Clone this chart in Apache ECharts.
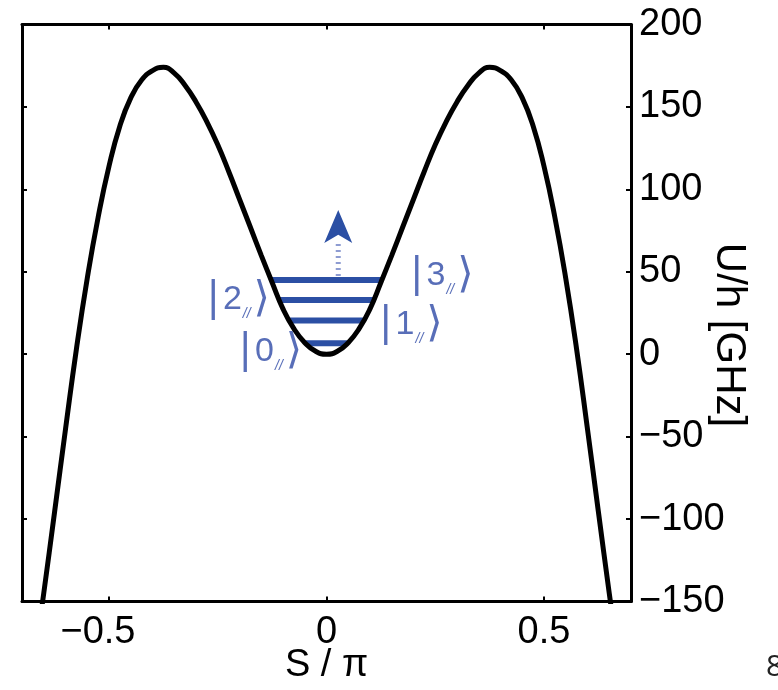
<!DOCTYPE html>
<html>
<head>
<meta charset="utf-8">
<script src="https://cdn.jsdelivr.net/npm/echarts@6/dist/echarts.min.js"></script>
<style>
  html, body { margin: 0; padding: 0; background: #ffffff; }
  #chart { width: 778px; height: 690px; }
</style>
</head>
<body>
<div id="chart"></div>
<script>
// Potential energy U/h (GHz) versus phase S/π
const phase = [-0.675, -0.65, -0.625, -0.6, -0.575, -0.55, -0.525, -0.5, -0.475, -0.45, -0.425, -0.4, -0.375, -0.35, -0.325, -0.3, -0.275, -0.25, -0.225, -0.2, -0.175, -0.15, -0.125, -0.1, -0.075, -0.05, -0.025,
               0,
               0.025, 0.05, 0.075, 0.1, 0.125, 0.15, 0.175, 0.2, 0.225, 0.25, 0.275, 0.3, 0.325, 0.35, 0.375, 0.4, 0.425, 0.45, 0.475, 0.5, 0.525, 0.55, 0.575, 0.6, 0.625, 0.65, 0.675];
const potential = [-193, -145, -95.5, -45.5, 3, 46, 83, 114, 138.5, 155.5, 166.3, 172, 174, 170.5, 163, 153, 141, 127, 111, 94, 77, 60, 43.5, 27.5, 15.5, 7, 1.8,
                   0,
                   1.8, 7, 15.5, 27.5, 43.5, 60, 77, 94, 111, 127, 141, 153, 163, 170.5, 174, 172, 166.3, 155.5, 138.5, 114, 83, 46, 3, -45.5, -95.5, -145, -193];

// Bound levels |0>..|3>: energy and half-width of the well at that energy
const levelEnergy = [6.6, 20.5, 32.9, 45.0];
const levelHalfWidth = [0.048, 0.086, 0.108, 0.127];
const levelNames = ['0', '1', '2', '3'];

// State labels anchored in data space
const labelPhase = [-0.129, 0.194, -0.203, 0.265];
const labelEnergy = [1.4, 17.7, 32.9, 47.4];

// Escape arrow above the top level (shaft ends, head tip)
const arrowPhase = 0.027;
const arrowShaft = [47.5, 69];
const arrowTip = 87.5;

const xTicks = [-0.5, 0, 0.5];

const fmt = v => (v < 0 ? '\u2212' + String(-v) : String(v));

const curve = phase.map((s, i) => [s, potential[i]]);
const levels = [];
levelEnergy.forEach((e, i) => {
  levels.push([-levelHalfWidth[i], e], [levelHalfWidth[i], e]);
  if (i < levelEnergy.length - 1) levels.push([null, null]);
});

const BLUE = '#2b4fa4';
const LABEL_BLUE = '#2e4aa6';

const chart = echarts.init(document.getElementById('chart'));
chart.setOption({
  animation: false,
  backgroundColor: '#ffffff',
  grid: { left: 22, right: 147, top: 24.5, bottom: 88.5, containLabel: false, outerBoundsMode: 'none' },
  xAxis: [{
    type: 'value', min: -0.7, max: 0.7, position: 'bottom',
    name: 'S / \u03c0', nameLocation: 'middle', nameGap: 45, nameMoveOverlap: false,
    nameTextStyle: { fontFamily: 'Liberation Sans', fontSize: 38, color: '#000' },
    axisLine: { show: true, onZero: false, lineStyle: { color: '#000', width: 3 } },
    axisTick: { show: true, inside: true, length: 5, customValues: xTicks, lineStyle: { color: '#000', width: 2 } },
    axisLabel: {
      customValues: xTicks, margin: 12, fontFamily: 'Liberation Sans', fontSize: 38, color: '#000',
      formatter: v => (v < 0 ? '{neg|' + fmt(v) + '}' : fmt(v)),
      rich: { neg: { fontFamily: 'Liberation Sans', fontSize: 38, color: '#000', padding: [0, 22, 0, 0] } }
    },
    splitLine: { show: false }
  }, {
    type: 'value', min: -0.7, max: 0.7, position: 'top',
    axisLine: { show: true, onZero: false, lineStyle: { color: '#000', width: 3 } },
    axisTick: { show: true, inside: true, length: 5, customValues: xTicks, lineStyle: { color: '#000', width: 2 } },
    axisLabel: { show: false },
    splitLine: { show: false }
  }],
  yAxis: [{
    type: 'value', min: -150, max: 200, interval: 50, position: 'right',
    name: 'U/h [GHz]', nameLocation: 'middle', nameGap: 77, nameRotate: -90, nameMoveOverlap: false,
    nameTextStyle: { fontFamily: 'Liberation Sans', fontSize: 42, color: '#000', padding: [0, 0, 0, 44] },
    axisLine: { show: true, onZero: false, lineStyle: { color: '#000', width: 3 } },
    axisTick: { show: true, inside: true, length: 5, lineStyle: { color: '#000', width: 2 } },
    axisLabel: { margin: 8, fontFamily: 'Liberation Sans', fontSize: 38, color: '#000', formatter: fmt },
    splitLine: { show: false }
  }, {
    type: 'value', min: -150, max: 200, interval: 50, position: 'left',
    axisLine: { show: true, onZero: false, lineStyle: { color: '#000', width: 3 } },
    axisTick: { show: true, inside: true, length: 5, lineStyle: { color: '#000', width: 2 } },
    axisLabel: { show: false },
    splitLine: { show: false }
  }],
  series: [{
    type: 'line', name: 'levels', data: levels, connectNulls: false,
    showSymbol: false, symbol: 'none', z: 2,
    lineStyle: { color: BLUE, width: 6 }
  }, {
    type: 'line', name: 'shaft', data: arrowShaft.map(u => [arrowPhase, u]),
    showSymbol: false, symbol: 'none', z: 2,
    lineStyle: { color: '#8e9cd2', width: 5, type: [2, 4] }
  }, {
    type: 'scatter', name: 'head', data: [[arrowPhase, arrowTip]],
    symbol: 'arrow', symbolSize: [21, 33], z: 3,
    itemStyle: { color: BLUE, opacity: 1 }
  }, {
    type: 'line', name: 'U', data: curve, smooth: 0.5, clip: true,
    showSymbol: false, symbol: 'none', z: 4,
    lineStyle: { color: '#000', width: 5 }
  }, {
    type: 'scatter', name: 'states', symbolSize: 0, z: 5,
    data: labelPhase.map((s, i) => [s, labelEnergy[i], levelNames[i]]),
    label: {
      show: true, position: 'inside',
      formatter: p => '{bar||}{n|' + p.value[2] + '}{sub|//}{ket|\u27e9}',
      rich: {
        bar: { fontFamily: 'DejaVu Sans', fontSize: 40, color: LABEL_BLUE },
        n: { fontFamily: 'Liberation Sans', fontSize: 34, color: LABEL_BLUE, padding: [0, 0, 0, 3] },
        sub: { fontFamily: 'Liberation Sans', fontSize: 14, fontStyle: 'italic', color: LABEL_BLUE, verticalAlign: 'bottom', padding: [20, 3, 0, 1] },
        ket: { fontFamily: 'DejaVu Sans', fontSize: 42, color: LABEL_BLUE }
      }
    }
  }],
  graphic: [{
    type: 'text', left: 766, top: 652,
    style: { text: '8', fontFamily: 'Open Sans', fontSize: 30, fill: '#222' }
  }]
});
</script>
</body>
</html>
